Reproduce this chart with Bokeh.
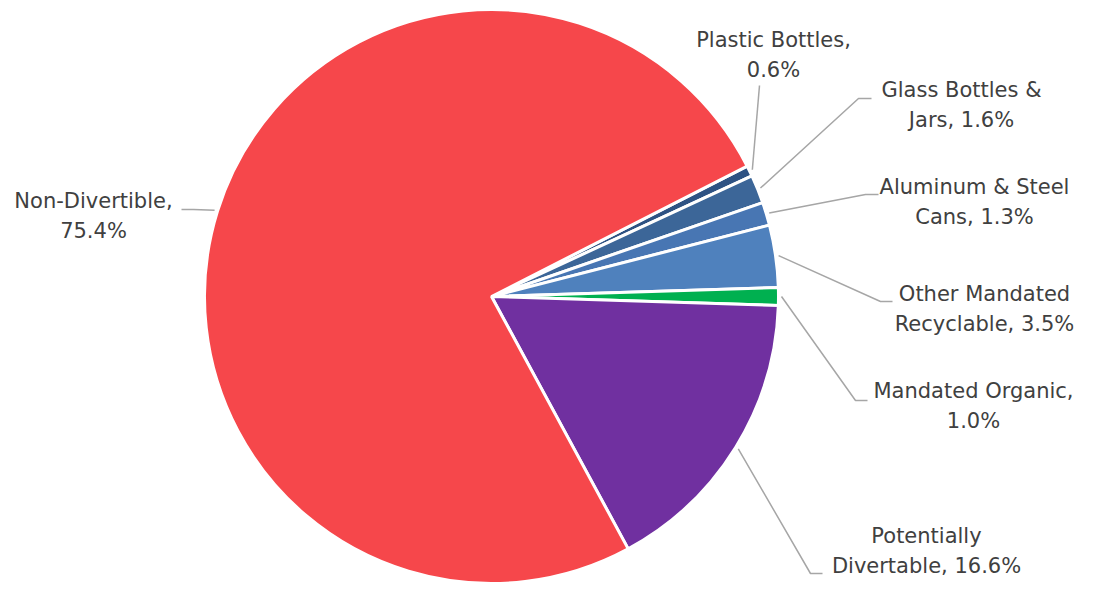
import math
from bokeh.plotting import figure
from bokeh.models import Range1d, ColumnDataSource
from bokeh.core.properties import value
from bokeh.embed import file_html
from bokeh.resources import INLINE

# ---- data ----
categories = ["Plastic Bottles", "Glass Bottles & Jars", "Aluminum & Steel Cans",
              "Other Mandated Recyclable", "Mandated Organic",
              "Potentially Divertable", "Non-Divertible"]
shares = [0.6, 1.6, 1.3, 3.5, 1.0, 16.6, 75.4]
colors = ["#2E5283", "#3C6698", "#4876B3", "#4F81BD", "#00B050", "#7030A0", "#F6474B"]
# words on the first line of each wrapped label
first_line_words = [2, 3, 3, 2, 2, 1, 1]

# ---- layout (screen pixels of the picture) ----
W, H = 1077, 584
CX, CY, R = 491, 296, 287
START_DEG = 27.0  # first slice starts here, slices go clockwise
# label block: centre x, first baseline y
label_pos = [(773, 39), (961, 89), (974, 186), (984, 293), (973, 390), (926, 535), (93, 200)]
# leader: elbow (x, y), end x
leader_pos = [((759, 85), 759), ((858, 98), 871), ((865, 194), 878), ((880, 301), 892),
              ((855, 400), 867), ((810, 573), 822), ((193, 209), 181)]
LINE_H = 30

p = figure(width=W, height=H, output_backend="svg", toolbar_location=None,
           x_range=Range1d(0, W), y_range=Range1d(-H, 0),
           min_border=0, outline_line_color=None, background_fill_color="white",
           border_fill_color="white")
p.axis.visible = False
p.grid.visible = False

total = sum(shares)
starts, ends, mids = [], [], []
acc = 0.0
for s in shares:
    a_hi = math.radians(START_DEG - acc / total * 360.0)
    acc += s
    a_lo = math.radians(START_DEG - acc / total * 360.0)
    starts.append(a_lo)
    ends.append(a_hi)
    mids.append((a_lo + a_hi) / 2)

src = ColumnDataSource(dict(x=[CX] * len(shares), y=[-CY] * len(shares),
                            start=starts, end=ends, color=colors))
p.wedge(x="x", y="y", radius=R, start_angle="start", end_angle="end",
        direction="anticlock", fill_color="color", line_color="white",
        line_width=3, source=src)

# leader lines
for m, (elbow, ex) in zip(mids, leader_pos):
    x0 = CX + (R + 3) * math.cos(m)
    y0 = -CY + (R + 3) * math.sin(m)
    p.line([x0, elbow[0], ex], [y0, -elbow[1], -elbow[1]],
           line_color="#A6A6A6", line_width=1.5)

# labels
xs, ys, texts = [], [], []
for name, s, n, (lx, ly) in zip(categories, shares, first_line_words, label_pos):
    words = f"{name}, {s:.1f}%".split(" ")
    lines = [" ".join(words[:n]), " ".join(words[n:])]
    for i, ln in enumerate(lines):
        xs.append(lx)
        ys.append(-(ly + i * LINE_H))
        texts.append(ln)
p.text(x=xs, y=ys, text=texts, text_align="center", text_baseline="alphabetic",
       text_font=value("DejaVu Sans"), text_font_size="21px", text_color="#404040")

open("out.html", "w").write(file_html(p, INLINE))
